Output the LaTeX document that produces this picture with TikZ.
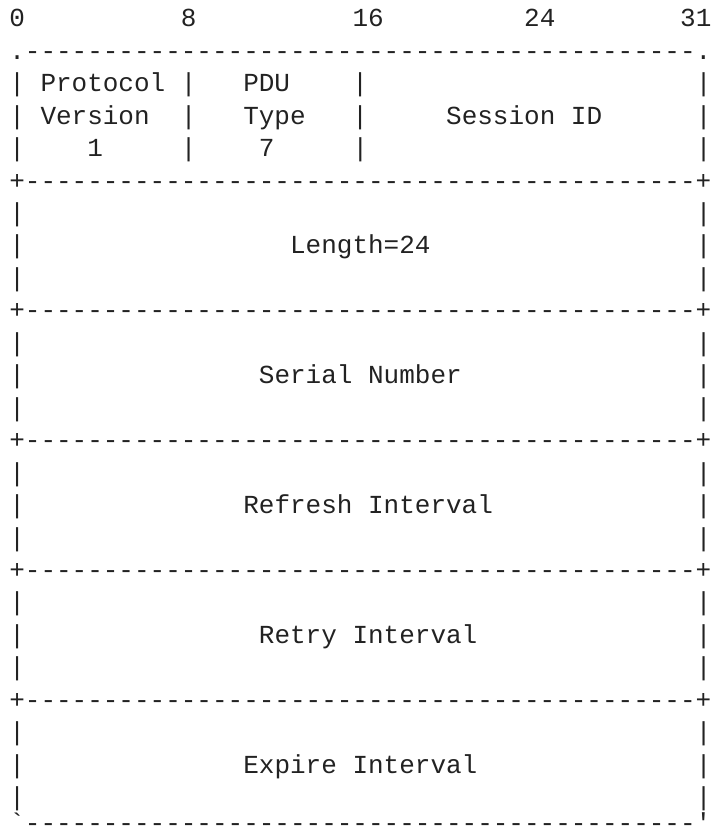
\documentclass[tikz,border=0pt]{standalone}
\usepackage{fontspec}
\setmonofont{Liberation Mono}
\definecolor{ink}{HTML}{222222}
% blank cells, counted in characters
\newcommand\gap[1]{\hskip#1\fontcharwd\font`x\relax}
% 43 dashes between the corners
\newcommand\dashrun{-------------------------------------------}
\begin{document}
\begin{tikzpicture}[x=0.5pt,y=-0.5pt,
  artrow/.style={anchor=base west,inner sep=0pt,text=ink,
    font=\ttfamily\fontsize{13pt}{16pt}\selectfont}]
  \useasboundingbox (0,0) rectangle (712,832);
  % draw bit numbers
  \node at(8.9,26.7)[artrow](bits){0\gap{10}8\gap{10}16\gap{9}24\gap{8}31};
  % draw top rim
  \node at(8.9,59.16)[artrow](rimtop){.\dashrun.};
  % draw version, type and session
  \node at(8.9,91.62)[artrow](hdra){| Protocol |\gap{3}PDU\gap{4}|\gap{21}|};
  \node at(8.9,124.08)[artrow](hdrb){| Version\gap{2}|\gap{3}Type\gap{3}|\gap{5}Session ID\gap{6}|};
  \node at(8.9,156.54)[artrow](hdrc){|\gap{4}1\gap{5}|\gap{4}7\gap{5}|\gap{21}|};
  \node at(8.9,189.0)[artrow](sepa){+\dashrun+};
  % draw length
  \node at(8.9,221.46)[artrow](lena){|\gap{43}|};
  \node at(8.9,253.92)[artrow](lenb){|\gap{17}Length=24\gap{17}|};
  \node at(8.9,286.38)[artrow](lenc){|\gap{43}|};
  \node at(8.9,318.84)[artrow](sepb){+\dashrun+};
  % draw serial number
  \node at(8.9,351.3)[artrow](sera){|\gap{43}|};
  \node at(8.9,383.76)[artrow](serb){|\gap{15}Serial Number\gap{15}|};
  \node at(8.9,416.22)[artrow](serc){|\gap{43}|};
  \node at(8.9,448.68)[artrow](sepc){+\dashrun+};
  % draw refresh interval
  \node at(8.9,481.14)[artrow](refa){|\gap{43}|};
  \node at(8.9,513.6)[artrow](refb){|\gap{14}Refresh Interval\gap{13}|};
  \node at(8.9,546.06)[artrow](refc){|\gap{43}|};
  \node at(8.9,578.52)[artrow](sepd){+\dashrun+};
  % draw retry interval
  \node at(8.9,610.98)[artrow](reta){|\gap{43}|};
  \node at(8.9,643.44)[artrow](retb){|\gap{15}Retry Interval\gap{14}|};
  \node at(8.9,675.9)[artrow](retc){|\gap{43}|};
  \node at(8.9,708.36)[artrow](sepe){+\dashrun+};
  % draw expire interval
  \node at(8.9,740.82)[artrow](expa){|\gap{43}|};
  \node at(8.9,773.28)[artrow](expb){|\gap{14}Expire Interval\gap{14}|};
  \node at(8.9,805.74)[artrow](expc){|\gap{43}|};
  % draw bottom rim
  \node at(8.9,831.5)[artrow](rimbot){`\dashrun'};
\end{tikzpicture}
\end{document}
